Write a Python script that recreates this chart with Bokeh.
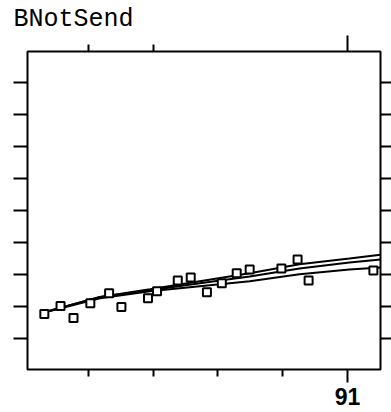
from bokeh.plotting import figure
from bokeh.models import Range1d, LinearAxis, FixedTicker, CustomLabelingPolicy
from bokeh.embed import file_html
from bokeh.resources import INLINE

# data
pt_x = [86.32, 86.57, 86.77, 87.03, 87.32, 87.51, 87.92, 88.06, 88.38, 88.58,
        88.83, 89.06, 89.29, 89.49, 89.98, 90.23, 90.40, 91.40]
pt_y = [1.77, 2.02, 1.65, 2.11, 2.42, 1.99, 2.26, 2.48, 2.82, 2.91,
        2.45, 2.73, 3.04, 3.16, 3.19, 3.47, 2.82, 3.13]

line_x = [86.28, 87.18, 87.95, 88.72, 89.49, 90.26, 91.03, 91.51]
upper_y = [1.80, 2.30, 2.54, 2.79, 3.04, 3.32, 3.50, 3.62]
mid_y = [1.80, 2.30, 2.51, 2.73, 2.94, 3.19, 3.38, 3.47]
lower_y = [1.80, 2.26, 2.48, 2.64, 2.79, 3.01, 3.16, 3.22]

y_ticks = [1, 2, 3, 4, 5, 6, 7, 8, 9]
x_major = [91]
x_minor_bottom = [87, 88, 89, 90]
x_minor_top = [87, 88]
title_text = "BNotSend"

p = figure(width=391, height=412, x_range=Range1d(86.06, 91.51), y_range=Range1d(0.04, 9.96),
           output_backend="svg", toolbar_location=None,
           x_axis_location=None, y_axis_location=None,
           min_border_left=27, min_border_right=10, min_border_top=48, min_border_bottom=43)
p.grid.visible = False
p.background_fill_color = "white"
p.border_fill_color = "white"
p.outline_line_color = "black"
p.outline_line_width = 2
p.outline_line_alpha = 1.0

def no_labels():
    return CustomLabelingPolicy(code="for (const i of [...indices]) { indices.unset(i) } return indices")

def hide_labels(ax):
    ax.major_label_text_font_size = "0px"
    ax.major_label_policy = no_labels()
    ax.major_label_standoff = 0

def yaxis(tick_out):
    ax = LinearAxis(ticker=FixedTicker(ticks=y_ticks, minor_ticks=[]))
    ax.axis_line_color = None
    ax.major_tick_out = tick_out
    ax.major_tick_in = 0
    ax.major_tick_line_width = 2
    ax.major_tick_line_color = "black"
    ax.minor_tick_line_color = None
    hide_labels(ax)
    return ax

p.add_layout(yaxis(14), "left")
p.add_layout(yaxis(11), "right")

def xaxis(minor, major_out, minor_out, show_labels):
    ax = LinearAxis(ticker=FixedTicker(ticks=x_major, minor_ticks=minor))
    ax.axis_line_color = None
    ax.major_tick_out = major_out
    ax.major_tick_in = 0
    ax.minor_tick_out = minor_out
    ax.minor_tick_in = 0
    ax.major_tick_line_width = 2
    ax.minor_tick_line_width = 2
    ax.major_tick_line_color = "black"
    ax.minor_tick_line_color = "black"
    if show_labels:
        ax.major_label_text_font = "Liberation Sans"
        ax.major_label_text_font_style = "bold"
        ax.major_label_text_font_size = "23px"
        ax.major_label_text_color = "black"
        ax.major_label_standoff = 5
    else:
        hide_labels(ax)
    return ax

p.add_layout(xaxis(x_minor_bottom, 13, 7, True), "below")
p.add_layout(xaxis(x_minor_top, 16, 7, False), "above")

p.title.text = title_text
p.title.text_font = "Liberation Mono"
p.title.text_font_size = "25px"
p.title.text_font_style = "normal"
p.title.text_color = "black"
p.title.align = "left"
p.title.offset = -14
p.title.standoff = 4

for ys in (upper_y, mid_y, lower_y):
    p.line(line_x, ys, line_color="black", line_width=2)

p.scatter(pt_x, pt_y, marker="square", size=8, fill_color="white",
          line_color="black", line_width=2)

open("out.html", "w").write(file_html(p, INLINE))
